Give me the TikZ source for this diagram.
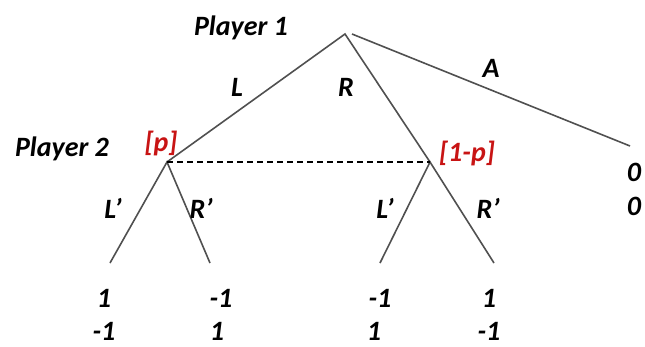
\documentclass[tikz,border=0pt]{standalone}
\usepackage{fontspec}
\setmainfont{Carlito}
\definecolor{edgegray}{RGB}{80,80,80}
\definecolor{probred}{RGB}{200,20,20}
\begin{document}
\begin{tikzpicture}[x=1pt,y=-1pt,
  lbl/.style={font=\fontsize{28}{32}\selectfont\bfseries\itshape, inner sep=0pt, anchor=center},
  prob/.style={lbl, text=probred},
  edge/.style={draw=edgegray, line width=1.6pt},
  info/.style={draw=black, line width=1.2pt, dash pattern=on 6pt off 4pt}]
\useasboundingbox (0,0) rectangle (645,346);
% decision nodes
\coordinate (root) at (345,34);
\coordinate (rootA) at (352,34);
\coordinate (n2L) at (167,162);
\coordinate (n2R) at (430,162);
\coordinate (tA) at (630,146);
\coordinate (t1) at (110,263);
\coordinate (t2) at (210,263);
\coordinate (t3) at (380,263);
\coordinate (t4) at (494,263);
% edges
\draw[edge] (n2L) -- (root) -- (n2R);
\draw[edge] (rootA) -- (tA);
\draw[edge] (t1) -- (n2L) -- (t2);
\draw[edge] (t3) -- (n2R) -- (t4);
\draw[info] (n2L) -- (n2R);
% labels
\node[lbl] (p1) at (241,28) {Player 1};
\node[lbl] (p2) at (62,149) {Player 2};
\node[lbl] (lL) at (237,87) {L};
\node[lbl] (lR) at (346,87) {R};
\node[lbl] (lA) at (491,68) {A};
\node[prob] (pp) at (161,143) {[p]};
\node[prob] (pq) at (467,153) {[1-p]};
\node[lbl] (a1) at (113,208) {L’};
\node[lbl] (a2) at (201,208) {R’};
\node[lbl] (a3) at (385,208) {L’};
\node[lbl] (a4) at (488,208) {R’};
\node[lbl] (zA1) at (634,172) {0};
\node[lbl] (zA2) at (634,206) {0};
\node[lbl] (u11) at (104,298) {1};
\node[lbl] (u12) at (104,331) {-1};
\node[lbl] (u21) at (221,298) {-1};
\node[lbl] (u22) at (217,331) {1};
\node[lbl] (u31) at (380,298) {-1};
\node[lbl] (u32) at (374,331) {1};
\node[lbl] (u41) at (489,298) {1};
\node[lbl] (u42) at (489,331) {-1};
\end{tikzpicture}
\end{document}
